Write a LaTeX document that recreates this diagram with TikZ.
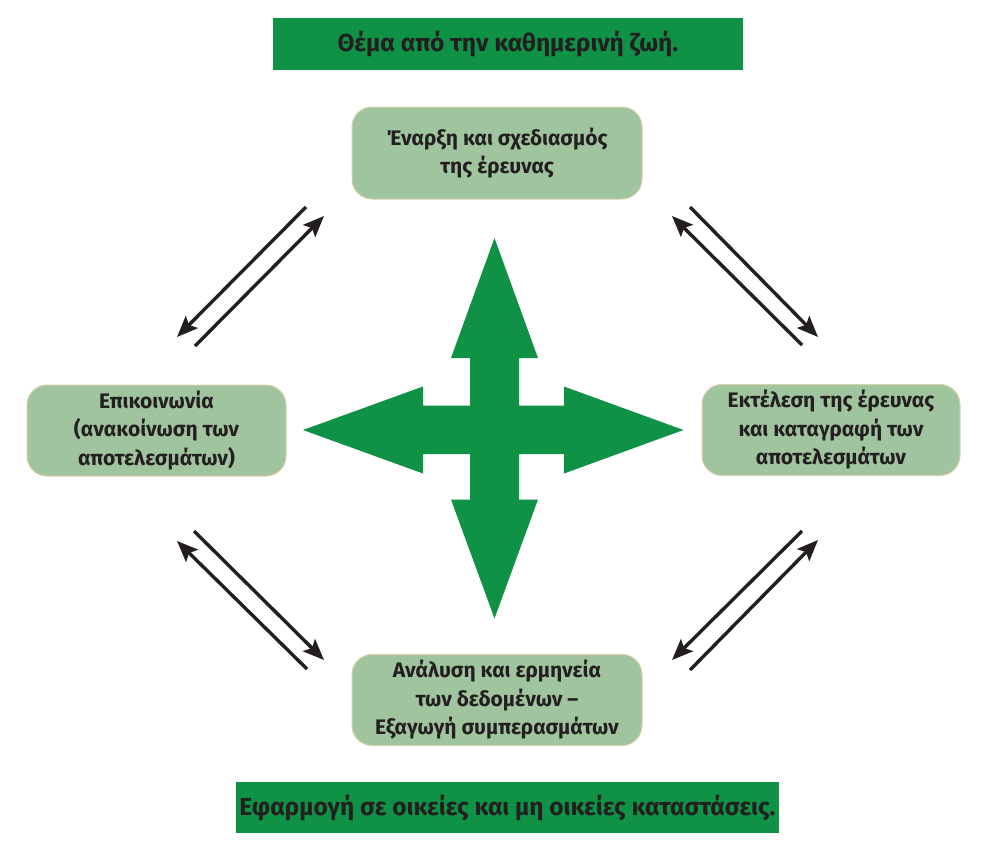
\documentclass[tikz,border=0pt]{standalone}
\usepackage{fontspec}
\setmainfont{Fira Sans}
\usepackage{tikz}
\usetikzlibrary{arrows.meta}

\definecolor{darkgreen}{RGB}{15,145,70}
\definecolor{palegreen}{RGB}{160,196,157}
\definecolor{boxedge}{RGB}{214,208,172}
\definecolor{inkblack}{RGB}{35,31,32}

\tikzset{
    banner/.style={fill=darkgreen, text=inkblack, font=\fontsize{24.5}{28}\selectfont\bfseries, inner sep=0pt},
    stagebox/.style={rounded corners=20pt, fill=palegreen, draw=boxedge, line width=1pt, text=inkblack,
        align=center, inner sep=0pt, font=\fontsize{21}{28.5}\selectfont\bfseries},
    flow/.style={draw=inkblack, line width=3.4pt, -{Stealth[length=21pt,width=17pt,inset=4pt]}}
}

\begin{document}
\begin{tikzpicture}[x=1pt, y=-1pt]
    \useasboundingbox (0,0) rectangle (989,849);

    % Top and bottom banners
    \node[banner, minimum width=470pt, minimum height=52pt] (theme) at (508,44) {Θέμα από την καθημερινή ζωή.};
    \node[banner, minimum width=543pt, minimum height=51pt] (apply) at (507.5,807.5) {Εφαρμογή σε οικείες και μη οικείες καταστάσεις.};

    % The four stages
    \node[stagebox, minimum width=290pt, minimum height=92pt] (start) at (497,153) {Έναρξη και σχεδιασμός\\της έρευνας};
    \node[stagebox, minimum width=258pt, minimum height=91pt] (run) at (831,430) {Εκτέλεση της έρευνας\\και καταγραφή των\\αποτελεσμάτων};
    \node[stagebox, minimum width=290pt, minimum height=91pt] (analysis) at (497,700) {Ανάλυση και ερμηνεία\\των δεδομένων –\\Εξαγωγή συμπερασμάτων};
    \node[stagebox, minimum width=259pt, minimum height=91pt] (report) at (156.5,430.5) {Επικοινωνία\\(ανακοίνωση των\\αποτελεσμάτων)};

    % Big green cross in the middle
    \coordinate (hub) at (494.5,430);
    \fill[darkgreen] (494.5,238) -- (538,358) -- (519,358) -- (519,405.7) -- (564,405.7) -- (564,386.5)
        -- (683.5,430) -- (564,473.5) -- (564,454) -- (519,454) -- (519,499.5) -- (538,499.5)
        -- (494.5,618.5) -- (451,499.5) -- (470,499.5) -- (470,454) -- (423,454) -- (423,473.5)
        -- (303,430) -- (423,386.5) -- (423,405.7) -- (470,405.7) -- (470,358) -- (451,358) -- cycle;

    % Ends of the arrow pairs
    \coordinate (tl1) at (306,207);   \coordinate (tl2) at (177,337);
    \coordinate (tl3) at (195,346);   \coordinate (tl4) at (324,216);
    \coordinate (tr1) at (690,207);   \coordinate (tr2) at (818,337);
    \coordinate (tr3) at (802,345);   \coordinate (tr4) at (672,216);
    \coordinate (br1) at (802,531);   \coordinate (br2) at (672,660);
    \coordinate (br3) at (690,670);   \coordinate (br4) at (818,540);
    \coordinate (bl1) at (194,531);   \coordinate (bl2) at (324,660);
    \coordinate (bl3) at (307,669);   \coordinate (bl4) at (177,541);

    % Arrow pairs between the stages
    \foreach \c in {tl, tr, br, bl} {
        \draw[flow] (\c1) -- (\c2);
        \draw[flow] (\c3) -- (\c4);
    }

\end{tikzpicture}
\end{document}
